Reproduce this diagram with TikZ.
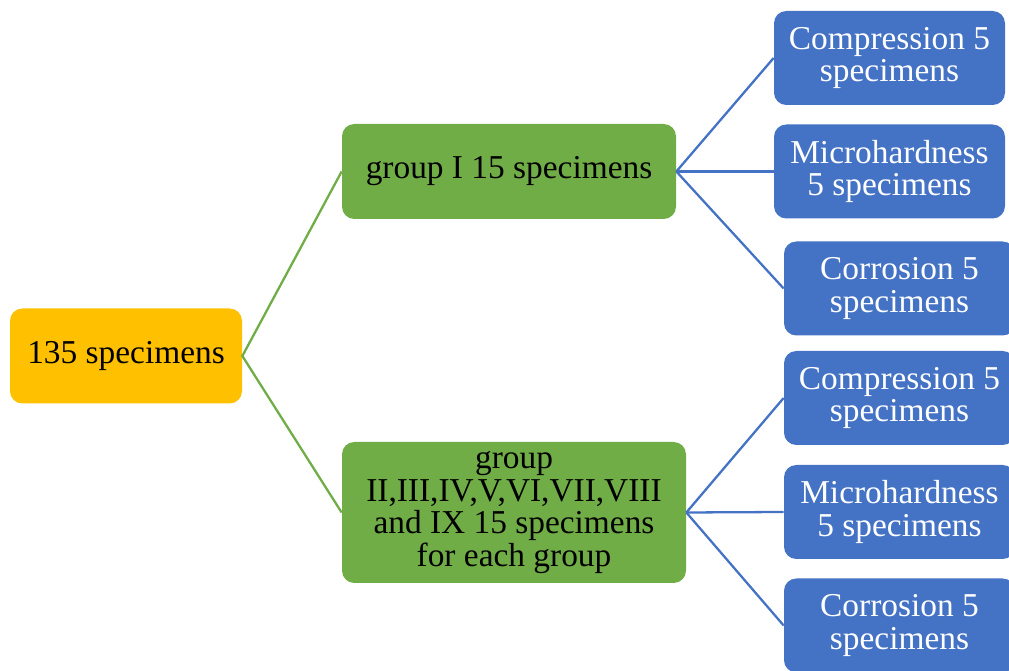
\documentclass[tikz,border=0pt]{standalone}
\usepackage{fontspec}
\setmainfont{Liberation Serif}

\definecolor{rootfill}{HTML}{FFC000}
\definecolor{groupfill}{HTML}{70AD47}
\definecolor{testfill}{HTML}{4472C4}

\tikzset{
	box/.style={rounded corners=7pt, inner sep=0pt, align=center,
		font=\fontsize{19}{18.5}\selectfont},
	rootbox/.style={box, fill=rootfill, minimum width=232*0.02cm, minimum height=95*0.02cm},
	groupbox/.style={box, fill=groupfill, minimum width=334*0.02cm, minimum height=95*0.02cm},
	testbox/.style={box, fill=testfill, text=white, minimum width=231*0.02cm, minimum height=94*0.02cm},
	greenlink/.style={groupfill, line width=1.3pt},
	bluelink/.style={testfill, line width=1.3pt},
}

\begin{document}
\begin{tikzpicture}[x=0.02cm, y=-0.02cm]
	\useasboundingbox (0,0) rectangle (1009,671);

	\node[rootbox] (root) at (126,356) {135 specimens};

	\node[groupbox] (g1) at (509,171.5) {group I 15 specimens};
	\node[groupbox, minimum width=344*0.02cm, minimum height=141*0.02cm] (g2) at (514,512.5)
		{group\\II,III,IV,V,VI,VII,VIII\\and IX 15 specimens\\for each group};

	\node[testbox] (c1) at (889.5,58) {Compression 5\\specimens};
	\node[testbox] (m1) at (889.5,171.5) {Microhardness\\5 specimens};
	\node[testbox] (r1) at (899.5,288.5) {Corrosion 5\\specimens};

	\node[testbox] (c2) at (899.5,398) {Compression 5\\specimens};
	\node[testbox] (m2) at (899.5,512) {Microhardness\\5 specimens};
	\node[testbox] (r2) at (899.5,625.5) {Corrosion 5\\specimens};

	\draw[greenlink] (g1.west) -- (root.east) -- (g2.west);

	\foreach \t in {c1, m1, r1}
		\draw[bluelink] (g1.east) -- (\t.west);
	\foreach \t in {c2, m2, r2}
		\draw[bluelink] (g2.east) -- (\t.west);
\end{tikzpicture}
\end{document}
